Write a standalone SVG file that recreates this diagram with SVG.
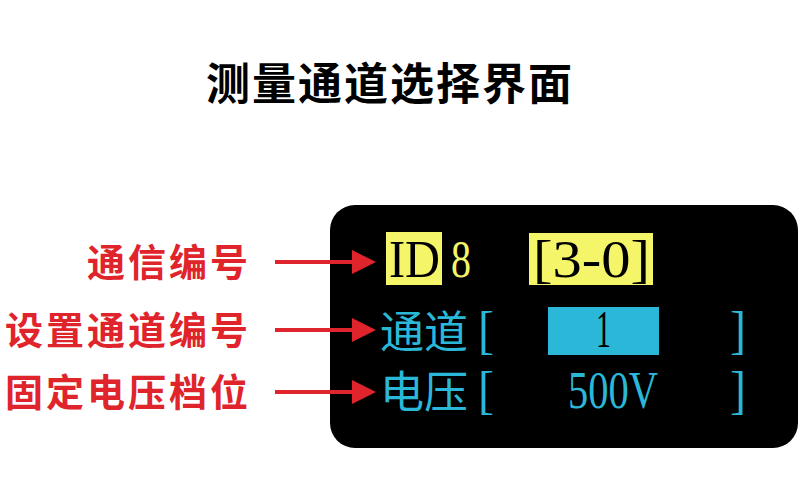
<svg xmlns="http://www.w3.org/2000/svg" width="800" height="500" viewBox="0 0 800 500">
<style>
.t{font-family:"Noto Sans CJK SC",sans-serif;font-weight:bold}
.lbl{font-family:"Noto Sans CJK SC",sans-serif;font-weight:bold;font-size:38px;fill:#e0242c;text-anchor:end;letter-spacing:3px}
.s{font-family:"Liberation Serif","Noto Sans CJK SC",serif;font-size:52px}
.c{font-family:"Noto Sans CJK SC",sans-serif;font-size:44px}
.cy{fill:#2bb8d8}
.ye{fill:#f5f56a}
</style>
<defs><marker id="ah" markerWidth="6" markerHeight="6" refX="5" refY="3" orient="auto" markerUnits="strokeWidth"><path d="M0,0L6,3L0,6z" fill="#e0242c"/></marker></defs>
<rect width="800" height="500" fill="#fff"/>
<text class="t" x="390" y="100" font-size="44" text-anchor="middle" letter-spacing="2">测量通道选择界面</text>
<g id="panel">
<rect x="330" y="205" width="468" height="243" rx="25" fill="#000"/>
<rect class="ye" x="386" y="232" width="56" height="53"/>
<rect class="ye" x="529" y="233" width="124" height="52"/>
<rect class="cy" x="548" y="307" width="111" height="48"/>
<text class="s" x="389" y="277" textLength="51" lengthAdjust="spacingAndGlyphs" fill="#000">ID</text>
<text class="s" x="451" y="277" textLength="20" lengthAdjust="spacingAndGlyphs" fill="#f5f56a">8</text>
<text class="s" x="533" y="277" textLength="117" lengthAdjust="spacingAndGlyphs" fill="#000">[3-0]</text>
<text class="c cy" x="380" y="348">通道</text>
<text class="s cy" x="478" y="348" textLength="16" lengthAdjust="spacingAndGlyphs">[</text>
<text class="s" x="596" y="347" fill="#000" textLength="15" lengthAdjust="spacingAndGlyphs">1</text>
<text class="s cy" x="730" y="348" textLength="16" lengthAdjust="spacingAndGlyphs">]</text>
<text class="c cy" x="380" y="408">电压</text>
<text class="s cy" x="478" y="408" textLength="16" lengthAdjust="spacingAndGlyphs">[</text>
<text class="s cy" x="568" y="408" textLength="90" lengthAdjust="spacingAndGlyphs">500V</text>
<text class="s cy" x="730" y="408" textLength="16" lengthAdjust="spacingAndGlyphs">]</text>
</g>
<g id="labels">
<text class="lbl" x="251" y="276">通信编号</text>
<text class="lbl" x="251" y="344">设置通道编号</text>
<text class="lbl" x="251" y="406">固定电压档位</text>
</g>
<g id="connectors" stroke="#e0242c" stroke-width="4" marker-end="url(#ah)">
<line x1="275" y1="262" x2="372" y2="262"/>
<line x1="275" y1="330" x2="372" y2="330"/>
<line x1="275" y1="392" x2="372" y2="392"/>
</g>
</svg>
